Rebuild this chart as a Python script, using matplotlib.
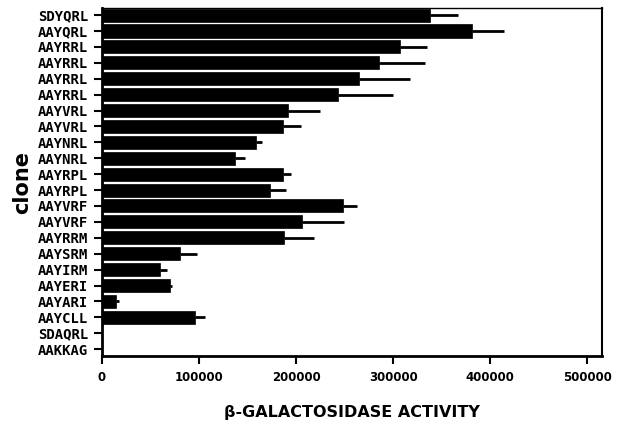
import matplotlib
matplotlib.use("Agg")
import matplotlib.pyplot as plt
import numpy as np

clones = [
    "SDYQRL", "AAYQRL", "AAYRRL", "AAYRRL", "AAYRRL", "AAYRRL",
    "AAYVRL", "AAYVRL", "AAYNRL", "AAYNRL", "AAYRPL", "AAYRPL",
    "AAYVRF", "AAYVRF", "AAYRRM", "AAYSRM", "AAYIRM", "AAYERI",
    "AAYARI", "AAYCLL", "SDAQRL", "AAKKAG",
]
activity = [
    338000, 381000, 307000, 285000, 265000, 243000,
    192000, 186000, 159000, 137000, 186000, 173000,
    248000, 206000, 187000, 80000, 60000, 70000,
    14000, 96000, 0, 0,
]
# upper end of each error bar
err_top = [
    367000, 414000, 335000, 333000, 317000, 300000,
    225000, 205000, 165000, 147000, 195000, 190000,
    263000, 249000, 218000, 98000, 67000, 72500,
    17500, 106000, 0, 0,
]

activity = np.array(activity)
err = np.array(err_top) - activity
y = np.arange(len(clones))

fig = plt.figure(figsize=(6.2, 4.26), dpi=100)
ax = fig.add_axes([0.1645, 0.164, 0.8065, 0.817])

ax.barh(y, activity, height=0.82, color="black", edgecolor="black", linewidth=0.5)
ax.errorbar(activity, y, xerr=[np.zeros_like(err), err], fmt="none",
            ecolor="black", elinewidth=2, capsize=0)

ax.set_ylim(len(clones) - 0.56, -0.44)
ax.set_xlim(0, 515000)
ax.set_yticks(y)
ax.set_yticklabels(clones, family="DejaVu Sans Mono", fontweight="bold", fontsize=10)
ax.set_xticks([0, 100000, 200000, 300000, 400000, 500000])
ax.set_xticklabels(["0", "100000", "200000", "300000", "400000", "500000"],
                   fontweight="bold", fontsize=8.5)
ax.tick_params(axis="y", length=6, width=1.5, pad=4)
ax.tick_params(axis="x", length=6, width=1.5, pad=5)

ax.spines["left"].set_linewidth(2)
ax.spines["bottom"].set_linewidth(2)
ax.spines["top"].set_linewidth(1)
ax.spines["right"].set_linewidth(1.5)

ax.set_xlabel("β-GALACTOSIDASE ACTIVITY", fontweight="bold", fontsize=11.5, labelpad=15)
ax.set_ylabel("clone", fontweight="bold", fontsize=15, labelpad=4)

fig.savefig("out.png", dpi=100)
